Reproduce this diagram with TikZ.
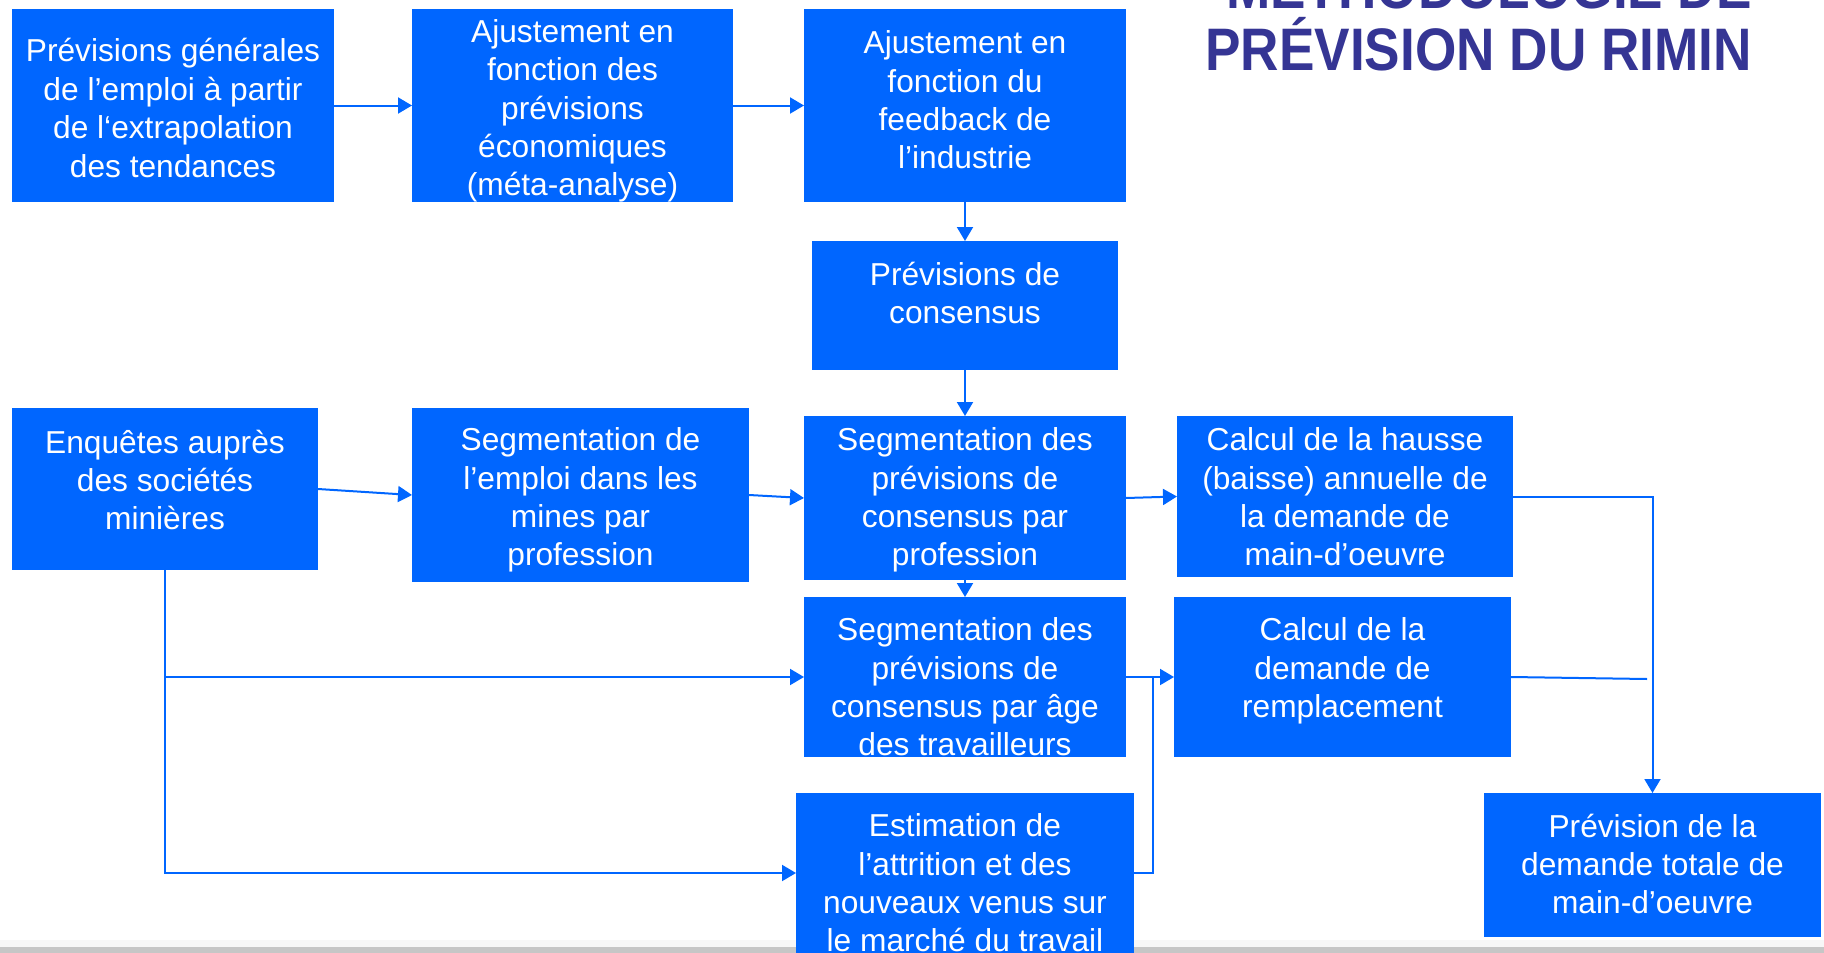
\documentclass[tikz,border=0pt]{standalone}
\usepackage{fontspec}
\setmainfont{Liberation Sans}
\usepackage{graphicx}
\usetikzlibrary{arrows.meta}
\definecolor{boxblue}{RGB}{0,102,255}
\definecolor{titleblue}{RGB}{53,53,148}
\begin{document}
\begin{tikzpicture}[x=1pt,y=-1pt,
  box/.style={fill=boxblue,draw=none,inner sep=0pt,outer sep=0pt},
  txt/.style={text=white,align=center,inner sep=0pt,font=\fontsize{31.7}{38.4}\selectfont},
  titletxt/.style={text=titleblue,inner sep=0pt,font=\bfseries\fontsize{60}{72}\selectfont},
  conn/.style={draw=boxblue,line width=2pt,-{Triangle[length=14pt,width=16pt]}},
  wire/.style={draw=boxblue,line width=2pt}]
\useasboundingbox (0,0) rectangle (1824,953);
\clip (0,0) rectangle (1824,953);
\fill[gray!6] (0,940) rectangle (1824,947);
\fill[gray!45] (0,947) rectangle (1824,953);
% title
\node[titletxt,anchor=base east] (title1) at (1752,9) {\scalebox{0.886}[1]{MÉTHODOLOGIE DE}};
\node[titletxt,anchor=base east] (title2) at (1752,70) {\scalebox{0.886}[1]{PRÉVISION DU RIMIN}};
% boxes
\node[box,minimum width=322pt,minimum height=193pt] (b1) at (173,105.5) {};
\node[box,minimum width=321pt,minimum height=193pt] (b2) at (572.5,105.5) {};
\node[box,minimum width=322pt,minimum height=193pt] (b3) at (965,105.5) {};
\node[box,minimum width=306pt,minimum height=129pt] (b4) at (965,305.5) {};
\node[box,minimum width=306pt,minimum height=162pt] (b5) at (165,489) {};
\node[box,minimum width=337pt,minimum height=174pt] (b6) at (580.5,495) {};
\node[box,minimum width=322pt,minimum height=164pt] (b7) at (965,498) {};
\node[box,minimum width=336pt,minimum height=161pt] (b8) at (1345,496.5) {};
\node[box,minimum width=322pt,minimum height=160pt] (b9) at (965,677) {};
\node[box,minimum width=337pt,minimum height=160pt] (b10) at (1342.5,677) {};
\node[box,minimum width=338pt,minimum height=160pt] (b11) at (965,873) {};
\node[box,minimum width=337pt,minimum height=144pt] (b12) at (1652.5,865) {};
% texts
\node[txt] (t1) at (173,108) {Prévisions générales\\de l’emploi à partir\\de l‘extrapolation\\des tendances};
\node[txt] (t2) at (572.5,111) {Ajustement en\\fonction des\\prévisions\\économiques\\(méta-analyse)};
\node[txt] (t3) at (965,100) {Ajustement en\\fonction du\\feedback de\\l’industrie};
\node[txt] (t4) at (965,293) {Prévisions de\\consensus};
\node[txt] (t5) at (165,480) {Enquêtes auprès\\des sociétés\\minières};
\node[txt] (t6) at (580.5,500) {Segmentation de\\l’emploi dans les\\mines par\\profession};
\node[txt] (t7) at (965,500) {Segmentation des\\prévisions de\\consensus par\\profession};
\node[txt] (t8) at (1345,497) {Calcul de la hausse\\(baisse) annuelle de\\la demande de\\main-d’oeuvre};
\node[txt] (t9) at (965,687) {Segmentation des\\prévisions de\\consensus par âge\\des travailleurs};
\node[txt] (t10) at (1342.5,671) {Calcul de la\\demande de\\remplacement};
\node[txt] (t11) at (965,883) {Estimation de\\l’attrition et des\\nouveaux venus sur\\le marché du travail};
\node[txt] (t12) at (1652.5,864) {Prévision de la\\demande totale de\\main-d’oeuvre};
% connectors
\coordinate (j1) at (1153,677);
\coordinate (j2) at (1647,679);
\draw[conn] (b1.east) -- (b2.west);
\draw[conn] (b2.east) -- (b3.west);
\draw[conn] (b3.south) -- (b4.north);
\draw[conn] (b4.south) -- (b7.north);
\draw[conn] (b5.east) -- (b6.west);
\draw[conn] (b6.east) -- (b7.west);
\draw[conn] (b7.east) -- (b8.west);
\draw[conn] (b7.south) -- (b9.north);
\draw[conn] (b5.south) |- (b11.west);
\draw[conn] (b5.south |- b9.west) -- (b9.west);
\draw[conn] (b9.east) -- (b10.west);
\draw[wire] (b11.east) -| (j1);
\draw[conn] (b8.east) -| (b12.north);
\draw[wire] (b10.east) -- (j2);
\end{tikzpicture}
\end{document}
